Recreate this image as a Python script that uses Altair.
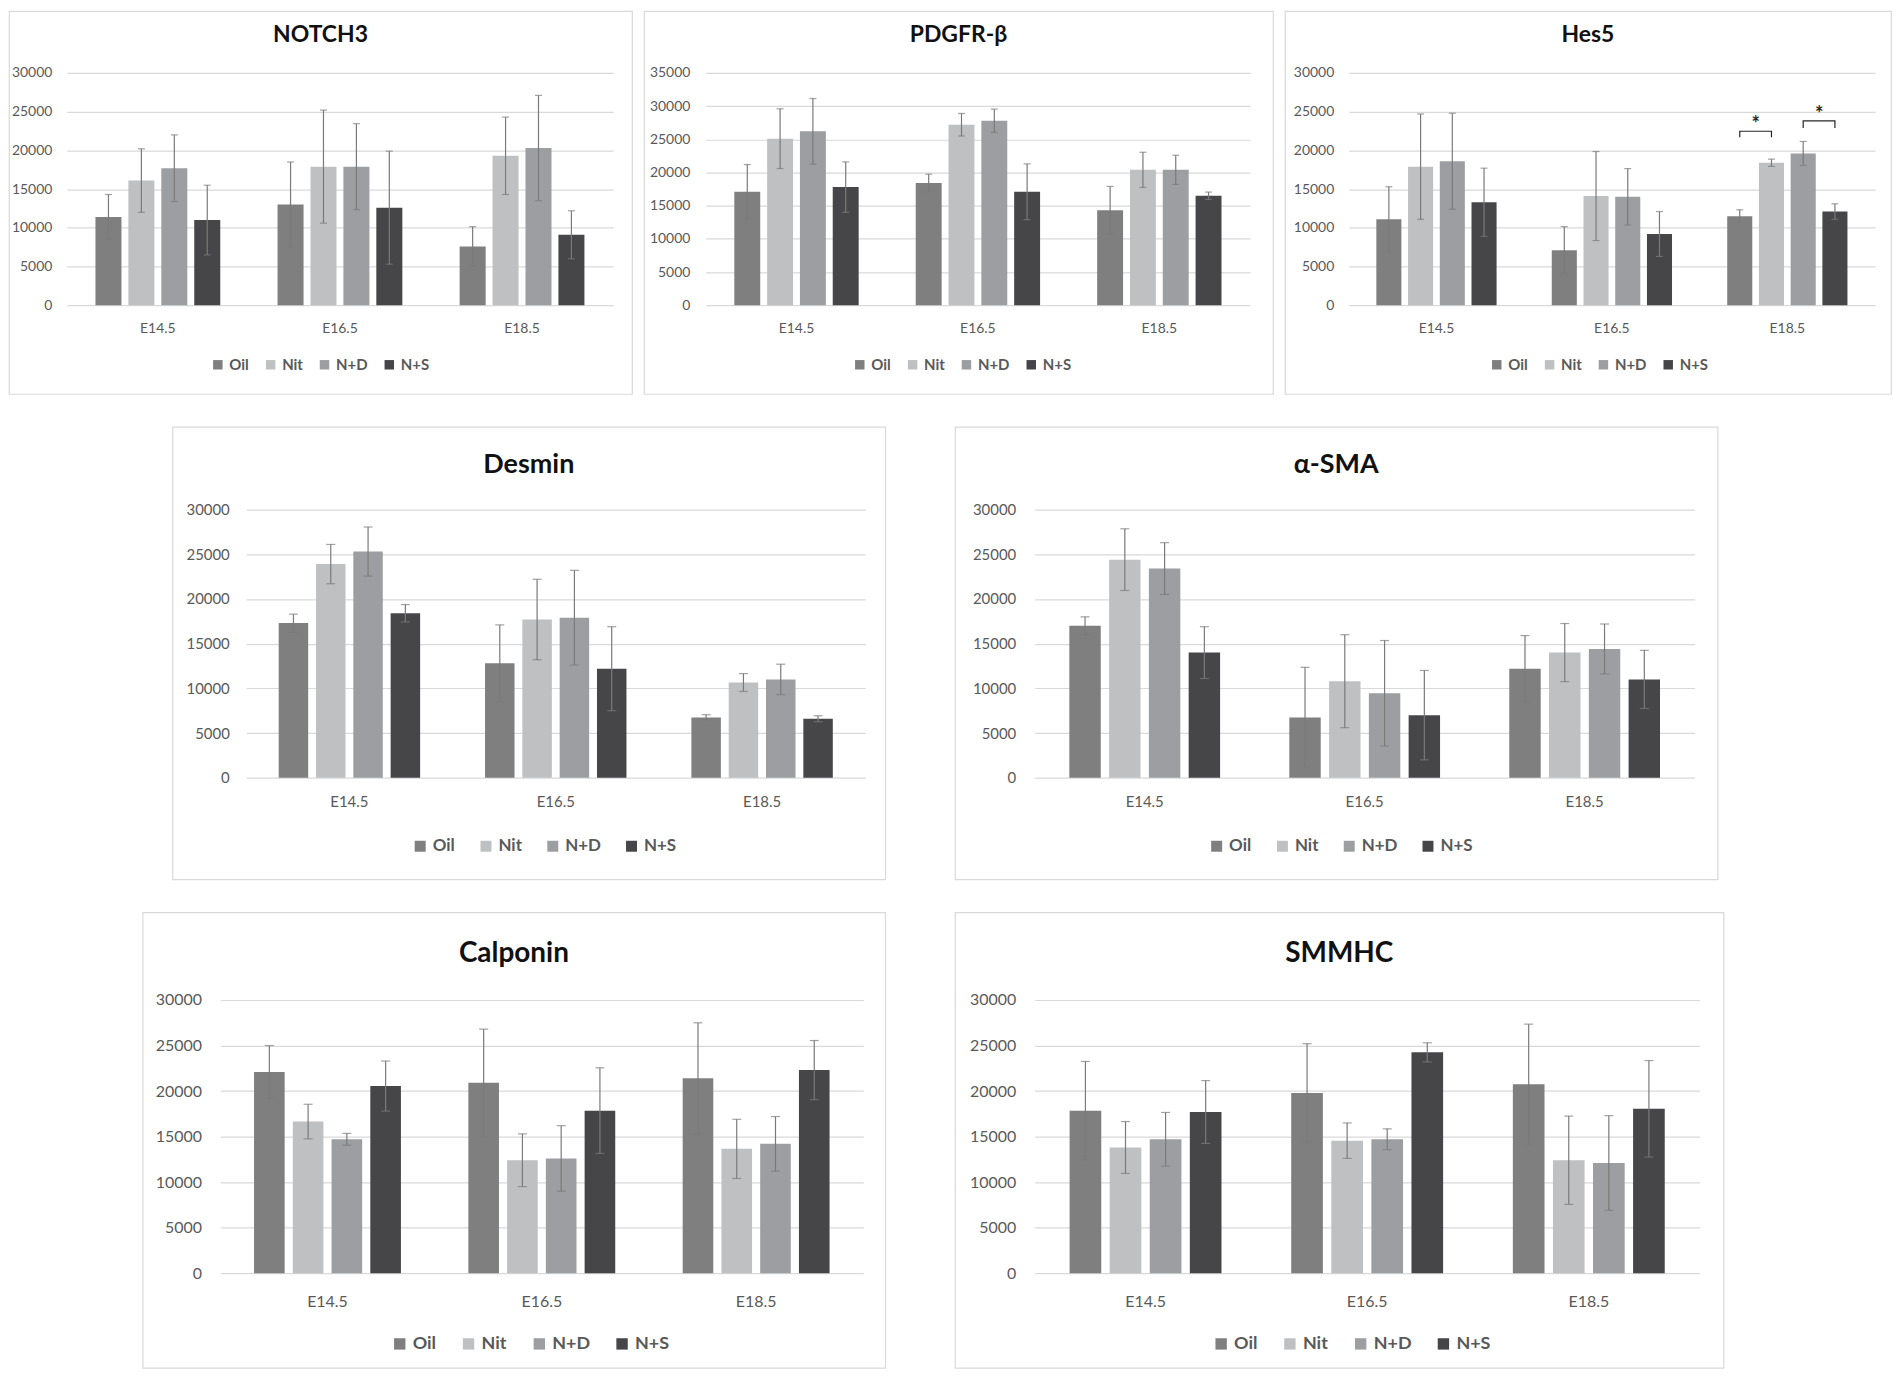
import altair as alt
import pandas as pd

FONT = "Lato, 'Open Sans', sans-serif"

stages = ["E14.5", "E16.5", "E18.5"]
groups = ["Oil", "Nit", "N+D", "N+S"]
colors = ["#7f7f7f", "#bfc0c2", "#9d9ea1", "#464648"]

# values listed stage by stage: Oil, Nit, N+D, N+S
notch3_mean = [11400, 16100, 17700, 11000, 13000, 17900, 17900, 12600, 7600, 19300, 20300, 9100]
notch3_err = [2900, 4100, 4300, 4500, 5500, 7300, 5550, 7300, 2550, 5000, 6800, 3100]

pdgfrb_mean = [17100, 25100, 26200, 17800, 18400, 27200, 27800, 17100, 14300, 20400, 20400, 16500]
pdgfrb_err = [4100, 4500, 4950, 3800, 1350, 1700, 1750, 4200, 3600, 2650, 2200, 550]

hes5_mean = [11100, 17900, 18600, 13300, 7100, 14100, 14000, 9200, 11500, 18400, 19600, 12100]
hes5_err = [4200, 6800, 6200, 4400, 3050, 5750, 3650, 2900, 820, 470, 1550, 1000]

desmin_mean = [17300, 23900, 25300, 18400, 12800, 17700, 17900, 12200, 6750, 10650, 11000, 6600]
desmin_err = [1000, 2200, 2750, 970, 4300, 4500, 5300, 4700, 300, 1000, 1700, 330]

asma_mean = [17000, 24400, 23400, 14000, 6750, 10800, 9450, 7000, 12200, 14000, 14400, 11000]
asma_err = [1000, 3450, 2900, 2900, 5600, 5200, 5900, 5000, 3700, 3250, 2800, 3250]

calponin_mean = [22100, 16650, 14700, 20550, 20900, 12400, 12600, 17850, 21400, 13650, 14200, 22300]
calponin_err = [2900, 1900, 650, 2750, 5900, 2900, 3600, 4700, 6100, 3250, 3000, 3250]

smmhc_mean = [17850, 13800, 14700, 17700, 19800, 14550, 14700, 24250, 20750, 12400, 12100, 18050]
smmhc_err = [5400, 2850, 2950, 3450, 5400, 1950, 1150, 1050, 6600, 4850, 5200, 5300]

# Hes5 significance brackets at E18.5
sig_stage = ["E18.5", "E18.5"]
sig_from = ["Oil", "N+D"]
sig_to = ["Nit", "N+S"]
sig_top = [22470, 23800]
sig_leg = [21700, 22900]


def table(mean, err):
    rows = []
    for i, s in enumerate(stages):
        for j, g in enumerate(groups):
            k = i * 4 + j
            rows.append({"stage": s, "group": g, "mean": mean[k],
                         "lo": mean[k] - err[k], "hi": mean[k] + err[k]})
    return pd.DataFrame(rows)


def panel(title, mean, err, L, sig=False):
    df = table(mean, err)
    ticks = list(range(0, L["ymax"] + 1, 5000))
    xs = alt.Scale(domain=stages, range=[L["x0"], L["x1"]], paddingInner=0, paddingOuter=0)
    ys = alt.Scale(domain=[0, L["ymax"]], range=[L["y1"], L["y0"]], nice=False, zero=True)
    xo = alt.Scale(domain=groups, paddingInner=0.21, paddingOuter=0.87)
    col = alt.Scale(domain=groups, range=colors)

    xaxis = alt.Axis(orient="bottom", offset=-(L["H"] - L["y1"]), domain=False, ticks=False,
                     grid=False, labelAngle=0, labelFont=FONT, labelFontSize=L["fs"],
                     labelColor="#595959", labelPadding=L["xpad"], title=None)
    yaxis = alt.Axis(orient="left", offset=-L["x0"], values=ticks, format="d", domain=False,
                     ticks=False, grid=True, gridColor="#d9d9d9", gridWidth=1.2,
                     labelFont=FONT, labelFontSize=L["fs"], labelColor="#595959",
                     labelPadding=L["lpad"], title=None)
    X = alt.X("stage:N", scale=xs, sort=stages, title=None, axis=xaxis)
    XO = alt.XOffset("group:N", scale=xo, sort=groups)
    Y = lambda f: alt.Y(f, scale=ys, title=None, axis=yaxis)

    base = alt.Chart(df)
    bars = base.mark_bar().encode(
        x=X, xOffset=XO, y=Y("mean:Q"),
        color=alt.Color("group:N", scale=col, sort=groups,
                        legend=alt.Legend(orient="none", legendX=L["legx"], legendY=L["legy"],
                                          direction="horizontal", title=None,
                                          symbolType="square", symbolSize=L["sym"],
                                          symbolStrokeWidth=0, labelFont=FONT,
                                          labelFontSize=L["legfs"], labelFontWeight="bold",
                                          labelColor="#595959", columnPadding=L["legcol"],
                                          labelOffset=4)),
    )
    ec = "#7a7a7a"
    rules = base.mark_rule(color=ec, strokeWidth=1.2).encode(
        x=X, xOffset=XO, y=Y("lo:Q"), y2="hi:Q")
    cap_lo = base.mark_tick(color=ec, thickness=1.2, size=L["cap"], orient="horizontal").encode(
        x=X, xOffset=XO, y=Y("lo:Q"))
    cap_hi = base.mark_tick(color=ec, thickness=1.2, size=L["cap"], orient="horizontal").encode(
        x=X, xOffset=XO, y=Y("hi:Q"))
    layers = [bars, rules, cap_lo, cap_hi]

    if sig:
        pts = []
        for b in range(len(sig_stage)):
            pts += [
                {"b": b, "o": 0, "stage": sig_stage[b], "group": sig_from[b], "v": sig_leg[b]},
                {"b": b, "o": 1, "stage": sig_stage[b], "group": sig_from[b], "v": sig_top[b]},
                {"b": b, "o": 2, "stage": sig_stage[b], "group": sig_to[b], "v": sig_top[b]},
                {"b": b, "o": 3, "stage": sig_stage[b], "group": sig_to[b], "v": sig_leg[b]},
            ]
        bdf = pd.DataFrame(pts)
        brk = alt.Chart(bdf).mark_line(color="#262626", strokeWidth=1.2).encode(
            x=X, xOffset=XO, y=Y("v:Q"), detail="b:N", order="o:Q")
        sdf = pd.DataFrame({"stage": sig_stage, "group": sig_from, "v": sig_top})
        stars = alt.Chart(sdf).mark_text(text="*", dx=16, dy=0, baseline="alphabetic",
                                          font=FONT, fontSize=20, fontWeight="bold",
                                          color="#262626").encode(
            x=X, xOffset=XO, y=Y("v:Q"))
        layers += [brk, stars]

    return alt.layer(*layers).properties(
        width=L["W"], height=L["H"],
        title=alt.TitleParams(title, font=FONT, fontSize=L["tfs"], fontWeight="bold",
                              color="#111111", anchor="middle", frame="group",
                              offset=-L["toff"]),
    )


def spacer(w):
    d = pd.DataFrame({"s": [0]})
    return alt.Chart(d).mark_point(opacity=0).encode(
        x=alt.X("s:Q", axis=None), y=alt.Y("s:Q", axis=None)
    ).properties(width=w, height=20, view=alt.ViewBackground(strokeOpacity=0))


row1_common = dict(H=384, y0=62, y1=295, tfs=23, toff=36, fs=14, xpad=16, legfs=15,
                   legy=347, legcol=14, sym=90, cap=7)
L_notch = dict(row1_common, W=625, x0=58, x1=606, ymax=30000, lpad=15, legx=202)
L_pdgf = dict(row1_common, W=631, x0=62, x1=608, ymax=35000, lpad=16, legx=209)
L_hes5 = dict(row1_common, W=608, x0=64, x1=592, ymax=30000, lpad=15, legx=205)

row2_common = dict(H=454, y0=83, y1=352, tfs=27, toff=52, fs=15, xpad=17, legfs=17,
                   legy=412, legcol=22, sym=121, cap=9, ymax=30000)
L_desmin = dict(row2_common, W=715, x0=74, x1=695, lpad=17, legx=240)
L_asma = dict(row2_common, W=765, x0=80, x1=742, lpad=19, legx=254)

row3_common = dict(H=457, y0=88, y1=362, tfs=28, toff=56, fs=16, xpad=20, legfs=18,
                   legy=424, legcol=23, sym=130, cap=9, ymax=30000)
L_calp = dict(row3_common, W=745, x0=78, x1=723, lpad=19, legx=249)
L_smm = dict(row3_common, W=771, x0=80, x1=747, lpad=19, legx=258)


def res(c):
    return c.resolve_scale(x="independent", y="independent", color="independent",
                           xOffset="independent").resolve_legend(color="independent")


p1 = panel("NOTCH3", notch3_mean, notch3_err, L_notch)
p2 = panel("PDGFR-β", pdgfrb_mean, pdgfrb_err, L_pdgf)
p3 = panel("Hes5", hes5_mean, hes5_err, L_hes5, sig=True)
p4 = panel("Desmin", desmin_mean, desmin_err, L_desmin)
p5 = panel("α-SMA", asma_mean, asma_err, L_asma)
p6 = panel("Calponin", calponin_mean, calponin_err, L_calp)
p7 = panel("SMMHC", smmhc_mean, smmhc_err, L_smm)

row1 = res(alt.hconcat(p1, p2, p3, spacing=12, bounds="flush"))
row2 = res(alt.hconcat(spacer(94), p4, p5, spacing=70, bounds="flush"))
row3 = res(alt.hconcat(spacer(64), p6, p7, spacing=70, bounds="flush"))

chart = res(alt.vconcat(row1, row2, row3, spacing=31)).properties(
    padding=0, background="white"
).configure_view(stroke="#d9d9d9", strokeWidth=1.2)

chart.save("out.html", embed_options={"renderer": "svg", "actions": False})
